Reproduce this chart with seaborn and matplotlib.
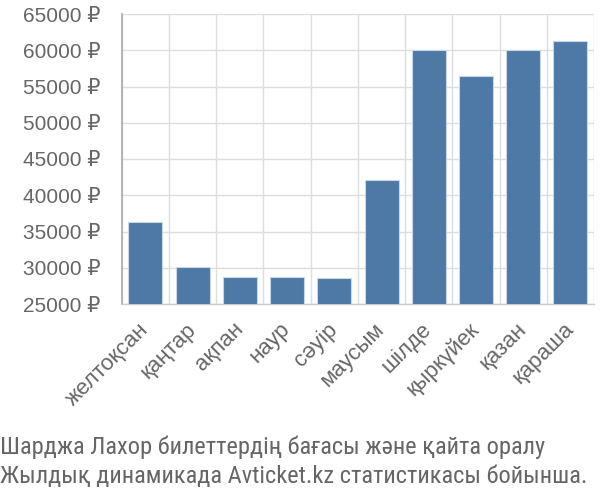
import matplotlib
matplotlib.use("Agg")
import matplotlib.pyplot as plt
import seaborn as sns
import pandas as pd
import numpy as np
from matplotlib.ticker import FixedLocator, FuncFormatter

months = ["желтоқсан", "қаңтар", "ақпан", "наур", "сәуір", "маусым",
          "шілде", "қыркүйек", "қазан", "қараша"]
prices = [36300, 30150, 28700, 28700, 28600, 42100, 60050, 56500, 60050, 61300]
yticks = [25000, 30000, 35000, 40000, 45000, 50000, 55000, 60000, 65000]
caption = ["Шарджа Лахор билеттердің бағасы және қайта оралу",
           "Жылдық динамикада Avticket.kz статистикасы бойынша."]

sns.set_theme(style="white")
plt.rcParams['font.family'] = ['Liberation Sans', 'DejaVu Sans']

df = pd.DataFrame({"month": months, "price": prices})

fig = plt.figure(figsize=(6, 5), dpi=100)
ax = fig.add_axes([0.203, 0.392, 0.787, 0.58])
sns.barplot(data=df, x="month", y="price", color="#4e79a7", saturation=1,
            width=0.72, edgecolor="#c8d6e6", linewidth=0.8, ax=ax, zorder=3)

ax.set_ylim(25000, 65000)
ax.set_xlim(-0.5, len(months) - 0.5)
ax.set_yticks(yticks)
ax.yaxis.set_major_formatter(FuncFormatter(lambda v, p: f"{int(v)} ₽"))
ax.set_xlabel("")
ax.set_ylabel("")

grid_c = "#dddddd"
ax.xaxis.set_minor_locator(FixedLocator(np.arange(-0.5, len(months), 1.0)))
ax.grid(axis="y", which="major", color=grid_c, linewidth=1, zorder=0)
ax.grid(axis="x", which="minor", color=grid_c, linewidth=1, zorder=0)
ax.tick_params(axis="y", which="major", length=14.4, color=grid_c, width=1,
               labelsize=15, labelcolor="#666666", pad=1)
ax.tick_params(axis="x", which="major", length=0, labelsize=16,
               labelcolor="#666666", pad=16)
ax.tick_params(axis="x", which="minor", length=13.7, color="#cccccc", width=1)
plt.setp(ax.get_xticklabels(), rotation=45, ha="right", va="center",
         rotation_mode="anchor")

for s in ["top", "right"]:
    ax.spines[s].set_visible(False)
ax.spines["left"].set_color("#aaaaaa")
ax.spines["left"].set_linewidth(1.2)
ax.spines["bottom"].set_color("#cccccc")
ax.spines["bottom"].set_linewidth(1)

cap_font = ["Roboto Condensed", "Liberation Sans", "DejaVu Sans"]
fig.text(0.0, 1 - 454 / 500, caption[0], fontsize=17.6, color="#666666",
         family=cap_font, va="baseline")
fig.text(0.0, 1 - 483 / 500, caption[1], fontsize=17.6, color="#666666",
         family=cap_font, va="baseline")

fig.savefig("out.png", dpi=100)
